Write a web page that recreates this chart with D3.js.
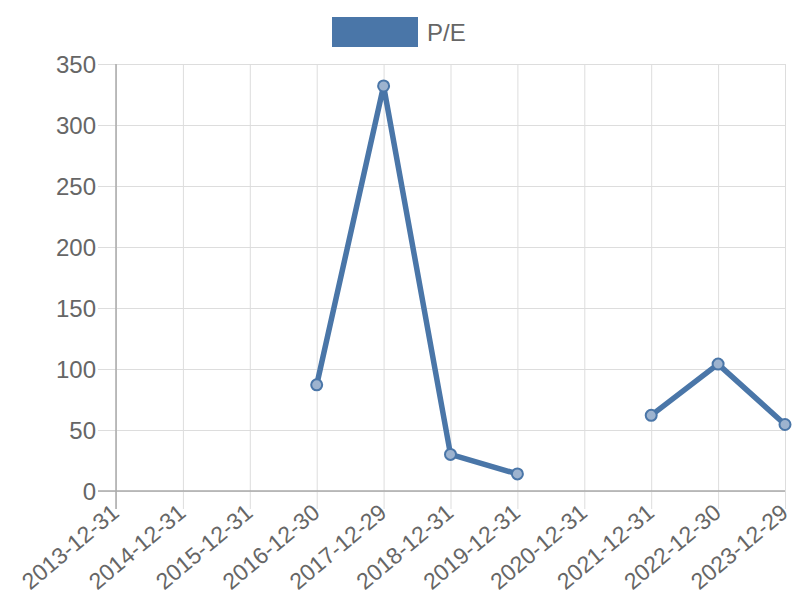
<!DOCTYPE html>
<html>
<head>
<meta charset="utf-8">
<script src="https://cdn.jsdelivr.net/npm/d3@7"></script>
<style>
  body { margin: 0; background: #fff; }
  text { font-family: "Liberation Sans", Arial, sans-serif; fill: #666; }
</style>
</head>
<body>
<svg id="chart" width="800" height="600"></svg>
<script>
// chart data
var dates = ["2013-12-31","2014-12-31","2015-12-31","2016-12-30","2017-12-29",
             "2018-12-31","2019-12-31","2020-12-31","2021-12-31","2022-12-30","2023-12-29"];
var peValues = [null, null, null, 87, 332, 30, 14, null, 62, 104, 54.5];
var yTicks = [0, 50, 100, 150, 200, 250, 300, 350];
var seriesName = "P/E";

var color = "#4a76a8";
var margin = {left: 116, right: 15, top: 64, bottom: 109};
var width = 800, height = 600;
var tickLen = 18;

var svg = d3.select('#chart');

var x = d3.scalePoint()
    .domain(dates)
    .range([margin.left, width - margin.right]);

var y = d3.scaleLinear()
    .domain([0, 350])
    .range([height - margin.bottom, margin.top]);

// horizontal grid + y ticks
var gy = svg.append('g')
    .attr('transform', 'translate(' + (margin.left - tickLen) + ',0)')
    .call(d3.axisLeft(y).tickValues(yTicks).tickSize(0));
gy.select('.domain').remove();
gy.selectAll('.tick line').attr('stroke', '#ddd').attr('stroke-width', 1)
    .attr('x1', 0).attr('x2', width - margin.right - margin.left + tickLen);
gy.selectAll('.tick text')
    .attr('x', -2)
    .attr('dy', '0.35em')
    .style('font-size', '24px')
    .style('fill', '#666');

// vertical grid + x ticks
var gx = svg.append('g')
    .attr('transform', 'translate(0,' + (height - margin.bottom) + ')')
    .call(d3.axisBottom(x).tickSize(0));
gx.select('.domain').remove();
gx.selectAll('.tick line').attr('stroke', '#ddd').attr('stroke-width', 1)
    .attr('y1', tickLen).attr('y2', -(height - margin.bottom - margin.top));
gx.selectAll('.tick text')
    .attr('y', 0)
    .attr('dy', 0)
    .attr('text-anchor', 'end')
    .attr('transform', 'translate(4,24) rotate(-40)')
    .style('font-size', '23px')
    .style('fill', '#666');

// axis lines
svg.append('line')
    .attr('x1', margin.left).attr('x2', margin.left)
    .attr('y1', margin.top).attr('y2', height - margin.bottom + tickLen)
    .attr('stroke', '#aaa').attr('stroke-width', 1.5);
svg.append('line')
    .attr('x1', margin.left - tickLen).attr('x2', width - margin.right)
    .attr('y1', y(0)).attr('y2', y(0))
    .attr('stroke', '#aaa').attr('stroke-width', 1.5);

// series line (gaps for missing values)
var pts = dates.map(function(d, i) { return {date: d, v: peValues[i]}; });

var line = d3.line()
    .defined(function(d) { return d.v != null; })
    .x(function(d) { return x(d.date); })
    .y(function(d) { return y(d.v); });

svg.append('path')
    .datum(pts)
    .attr('d', line)
    .attr('fill', 'none')
    .attr('stroke', color)
    .attr('stroke-width', 5.5)
    .attr('stroke-linejoin', 'miter');

svg.selectAll('circle.pt')
    .data(pts.filter(function(d) { return d.v != null; }))
    .enter().append('circle')
    .attr('class', 'pt')
    .attr('cx', function(d) { return x(d.date); })
    .attr('cy', function(d) { return y(d.v); })
    .attr('r', 5.5)
    .attr('fill', '#9db3cf')
    .attr('stroke', color)
    .attr('stroke-width', 2);

// legend
svg.append('rect')
    .attr('x', 332).attr('y', 17)
    .attr('width', 86).attr('height', 30)
    .attr('fill', color);
svg.append('text')
    .attr('x', 427).attr('y', 41)
    .style('font-size', '24px')
    .text(seriesName);
</script>
</body>
</html>
